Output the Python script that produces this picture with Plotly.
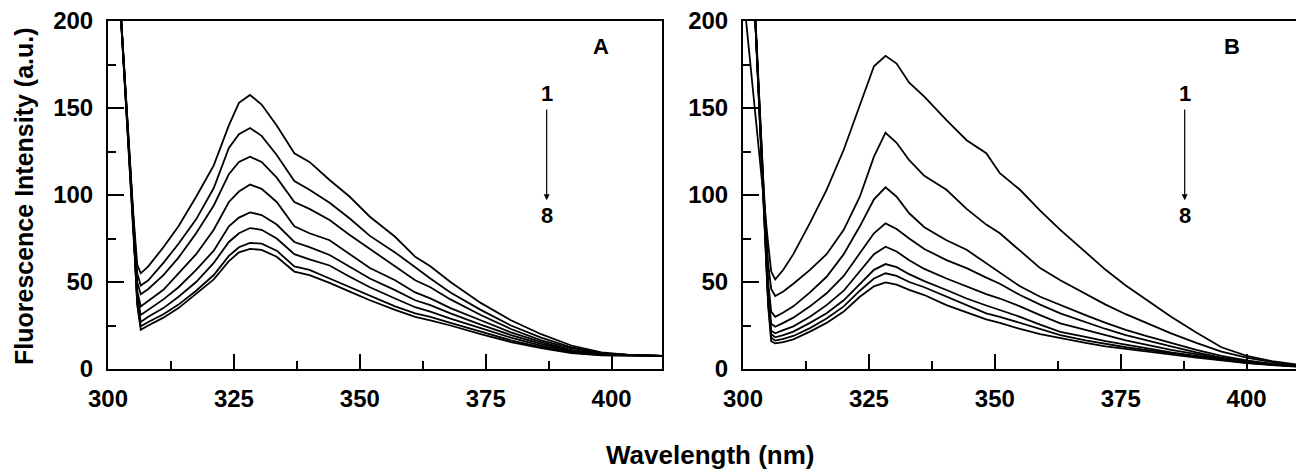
import plotly.graph_objects as go
from plotly.subplots import make_subplots

# wavelength grid (nm) for panel A
wl_a = [302, 303, 304, 305, 305.8, 306.5, 308, 311, 314, 317.5, 321, 324, 326, 328.2,
        330.5, 333.5, 337, 340, 344, 348, 352, 357, 361, 364, 368, 374, 380, 386,
        392, 398, 404, 410]

# panel A, spectra 1..8 (a.u.)
a1 = [230, 182, 135, 90, 60, 55, 59, 70, 82, 99, 117, 140, 153, 157.5,
      152, 140, 124, 119, 108.6, 99, 87.5, 76, 64.5, 59, 50, 38, 28, 20, 13.5, 9.5, 8, 7.5]
a2 = [230, 182, 134, 88, 55, 48, 51, 61, 72, 86, 104, 127, 135, 138.5,
      134, 123, 108, 103, 95.5, 86.5, 76.5, 67, 58.5, 52, 44, 34, 25, 18, 12.5, 9, 8, 7.5]
a3 = [230, 181, 134, 87, 50, 43, 46, 54, 64, 78, 94, 112, 119, 122,
      119, 110, 96, 92, 85.6, 77, 69, 59, 51, 47, 40, 31, 23, 16.5, 12, 9, 8, 7.5]
a4 = [230, 181, 134, 87, 45, 36, 39, 45.5, 55, 66, 80, 96, 102, 106,
      103.5, 96, 82, 78, 74, 66, 58, 51, 44, 40.6, 35, 28, 21, 15.5, 11, 8.5, 7.8, 7.5]
a5 = [230, 181, 134, 86, 42, 31, 34, 40, 47, 57, 68, 82, 87, 90,
      88.5, 83, 73, 70, 65.5, 58.5, 52, 45.3, 39.5, 36.7, 32, 25.5, 19.5, 14.5, 10.5, 8.5, 7.8, 7.5]
a6 = [230, 181, 134, 86, 40, 27, 30, 35, 41.5, 50, 61, 73, 78, 81,
      80, 75, 66, 63, 59.5, 53, 47, 40.5, 35.5, 33, 29, 23.5, 18, 13.5, 10, 8.3, 7.7, 7.5]
a7 = [230, 181, 134, 85, 38, 24.5, 27, 31.5, 37, 45, 54, 65, 70, 72.5,
      72, 68, 59, 57, 52, 47, 42, 36, 32, 30, 26.5, 21.5, 16.5, 12.5, 9.5, 8, 7.6, 7.5]
a8 = [230, 181, 134, 85, 37, 22.5, 25, 29.5, 35, 43, 51.5, 62, 67, 69,
      68.5, 64.5, 56, 54, 49.5, 44.5, 39.5, 34, 30, 28, 25, 20, 15.5, 12, 9.2, 7.9, 7.5, 7.4]

# wavelength grid (nm) for panel B
wl_b = [300, 301, 302, 303, 304, 305, 305.6, 306.4, 308, 310, 313.3, 316.6, 320, 323.2,
        326, 328.3, 330.5, 333, 336, 340.4, 344.4, 348.3, 351, 355, 359, 363, 368, 372,
        376, 380, 385, 390, 395, 400, 405, 410]

# panel B, spectra 1..8 (a.u.)
b1 = [218, 188, 159, 130, 101, 72, 56, 51.5, 57, 66, 84, 103, 126, 152,
      174, 180, 175.5, 164.5, 156.5, 143, 131.5, 124, 112.5, 103, 91, 80, 67, 57,
      48, 40, 30, 21, 12.5, 7.5, 4.5, 2.5]
b2 = [290, 260, 230, 170, 110, 60, 46, 42, 44.5, 49, 57, 66, 80, 99,
      122, 135.8, 130, 120, 111, 103, 92, 83, 78, 68, 58, 51, 43, 37,
      31.5, 26.5, 20.5, 15, 10, 6.5, 4, 2.3]
b3 = [290, 260, 228, 168, 108, 50, 33, 30, 32.5, 36, 44, 53, 66, 82,
      97.5, 104.4, 99, 89.5, 81.5, 74, 68.5, 60.7, 55.5, 47.5, 41.5, 36.7, 31, 26.5,
      22.5, 19, 15, 11, 7.5, 5, 3, 2]
b4 = [290, 260, 228, 167, 106, 45, 26, 24.3, 26.5, 29.5, 36, 43.5, 53.5, 66.5,
      78, 83.7, 80.5, 75, 69, 62.6, 58, 52.5, 49, 42.5, 37, 32, 27, 23,
      19.5, 16.5, 13, 9.5, 6.5, 4.5, 2.8, 1.8]
b5 = [290, 260, 228, 166, 104, 42, 22, 20.5, 22.3, 24.5, 30, 36.7, 45, 56,
      66, 70.3, 67.5, 62.5, 57.5, 52, 47.5, 43, 40.5, 36, 31, 26.2, 22.5, 19.5,
      16.5, 14, 11, 8.5, 6, 4, 2.6, 1.7]
b6 = [290, 260, 228, 165, 102, 40, 20, 18.2, 19.5, 21.5, 26.5, 32, 39.5, 49,
      57, 60.3, 58.5, 54.5, 50.5, 45.4, 40.5, 36.5, 34, 30, 25.5, 21.4, 18.5, 16,
      14, 12, 9.5, 7.5, 5.5, 3.8, 2.5, 1.6]
b7 = [290, 260, 228, 165, 101, 38, 18, 16.3, 17.3, 19, 23.5, 29, 36, 45,
      52, 55, 53.5, 50, 47, 41.5, 36.5, 32, 30, 26.5, 23, 19.5, 16.5, 14.5,
      12.5, 11, 9, 7, 5.2, 3.6, 2.4, 1.5]
b8 = [290, 260, 228, 164, 100, 36, 16, 14.7, 15.5, 17, 21.5, 26.5, 33, 41.5,
      47.5, 49.8, 48.5, 45.5, 42.5, 36.7, 32.5, 28.5, 26.5, 23, 20, 17.6, 15, 13,
      11.5, 10, 8.3, 6.5, 5, 3.4, 2.3, 1.4]

x_ticks = [300, 325, 350, 375, 400]
y_ticks = [0, 50, 100, 150, 200]

FONT = "Liberation Sans, Arial, sans-serif"

# page body keeps its default 8px margin, so the figure is 8px smaller
W, H = 1296, 465

fig = make_subplots(rows=1, cols=2, horizontal_spacing=0.06)

for col, wl, curves in [(1, wl_a, [a1, a2, a3, a4, a5, a6, a7, a8]),
                        (2, wl_b, [b1, b2, b3, b4, b5, b6, b7, b8])]:
    for i, ys in enumerate(curves):
        fig.add_trace(go.Scatter(
            x=wl, y=ys, mode="lines", name=str(i + 1),
            line=dict(color="black", width=1.8), showlegend=False,
        ), row=1, col=col)

axis_common = dict(
    showline=True, linecolor="black", linewidth=2, mirror=True,
    showgrid=False, zeroline=False, automargin=False,
    ticks="inside", tickcolor="black", tickwidth=2,
    ticklabeloverflow="allow",
    tickfont=dict(family=FONT, size=24, color="black", weight="bold"),
)

for col in (1, 2):
    fig.update_xaxes(
        range=[300, 410], tickvals=x_ticks, ticklen=15,
        ticklabelstandoff=7,
        minor=dict(ticks="inside", dtick=12.5, tick0=300, ticklen=8,
                   tickwidth=1.5, tickcolor="black"),
        row=1, col=col, **axis_common,
    )
    fig.update_yaxes(
        range=[0, 200], tickvals=y_ticks, ticklen=16,
        ticklabelstandoff=8,
        minor=dict(ticks="inside", dtick=25, tick0=0, ticklen=8,
                   tickwidth=1.5, tickcolor="black"),
        row=1, col=col, **axis_common,
    )

fig.update_layout(
    xaxis=dict(domain=[100 / W, 654 / W]),
    xaxis2=dict(domain=[735 / W, 1289 / W]),
    yaxis=dict(domain=[1 - 361 / H, 1 - 13 / H]),
    yaxis2=dict(domain=[1 - 361 / H, 1 - 13 / H]),
)

lab_font = dict(family=FONT, size=22, color="black", weight="bold")

# panel letters and the 1 -> 8 arrow
for xr, yr, letter, lx, ax_x in [("x", "y", "A", 397.8, 387.1),
                                 ("x2", "y2", "B", 397.0, 387.7)]:
    fig.add_annotation(x=lx, y=185.6, xref=xr, yref=yr, text=letter,
                       showarrow=False, font=lab_font)
    fig.add_annotation(x=ax_x, y=158.6, xref=xr, yref=yr, text="1",
                       showarrow=False, font=lab_font)
    fig.add_annotation(x=ax_x, y=88.5, xref=xr, yref=yr, text="8",
                       showarrow=False, font=lab_font)
    fig.add_annotation(x=ax_x, y=97, xref=xr, yref=yr, ax=ax_x, ay=150,
                       axref=xr, ayref=yr, text="", showarrow=True,
                       arrowhead=2, arrowsize=1, arrowwidth=1.2, arrowcolor="black")

title_font = dict(family=FONT, size=26, color="black", weight="bold")
fig.add_annotation(x=702 / W, y=1 - 447 / H, xref="paper", yref="paper",
                   xanchor="center", yanchor="middle",
                   text="Wavelength (nm)", showarrow=False, font=title_font)
fig.add_annotation(x=16 / W, y=1 - 188 / H, xref="paper", yref="paper",
                   xanchor="center", yanchor="middle",
                   text="Fluorescence Intensity (a.u.)", textangle=-90,
                   showarrow=False, font=dict(family=FONT, size=25, color="black",
                                              weight="bold"))

fig.update_layout(
    width=W, height=H,
    margin=dict(l=0, r=0, t=0, b=0),
    paper_bgcolor="white", plot_bgcolor="white",
)

fig.write_html("out.html")
